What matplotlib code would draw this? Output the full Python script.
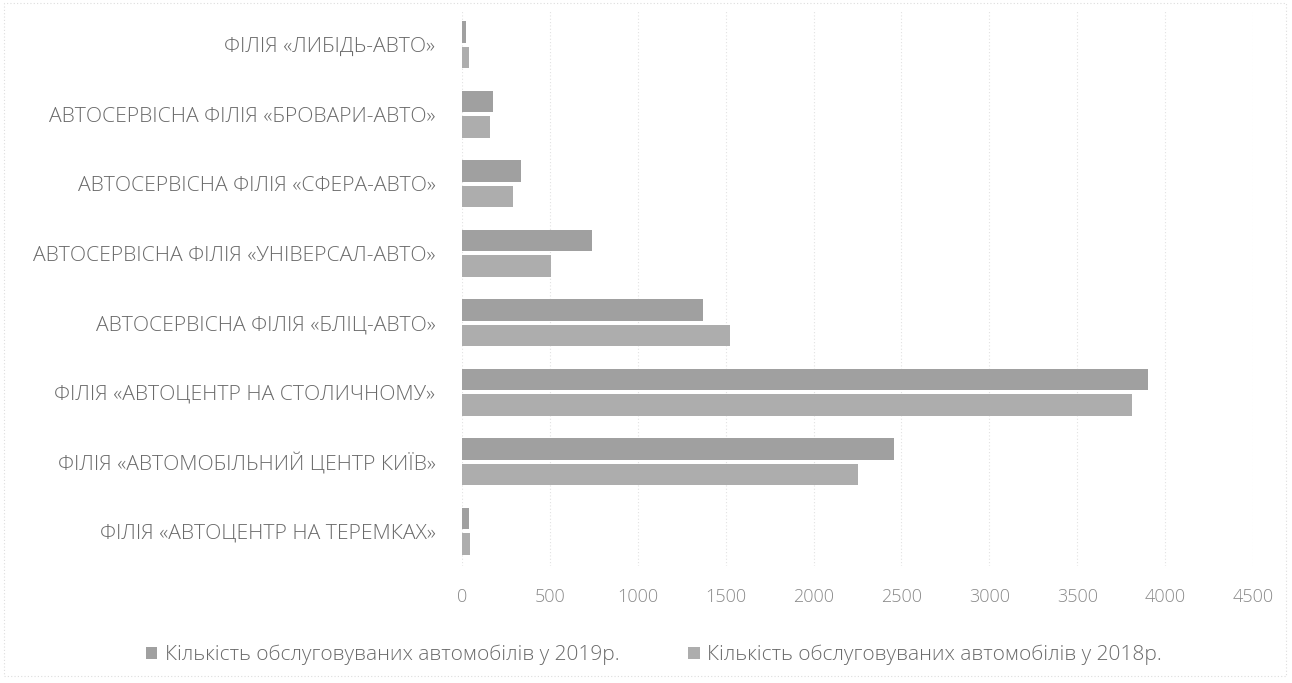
import numpy as np
import matplotlib.pyplot as plt
from matplotlib.patches import Rectangle

# Філії (знизу вгору, як на осі)
branches = [
    "ФІЛІЯ «АВТОЦЕНТР НА ТЕРЕМКАХ»",
    "ФІЛІЯ «АВТОМОБІЛЬНИЙ ЦЕНТР КИЇВ»",
    "ФІЛІЯ «АВТОЦЕНТР НА СТОЛИЧНОМУ»",
    "АВТОСЕРВІСНА ФІЛІЯ «БЛІЦ-АВТО»",
    "АВТОСЕРВІСНА ФІЛІЯ «УНІВЕРСАЛ-АВТО»",
    "АВТОСЕРВІСНА ФІЛІЯ «СФЕРА-АВТО»",
    "АВТОСЕРВІСНА ФІЛІЯ «БРОВАРИ-АВТО»",
    "ФІЛІЯ «ЛИБІДЬ-АВТО»",
]
cars_2019 = [37, 2455, 3905, 1370, 738, 333, 179, 20]
cars_2018 = [43, 2255, 3810, 1525, 508, 290, 157, 37]
xticks = [0, 500, 1000, 1500, 2000, 2500, 3000, 3500, 4000, 4500]

label_2019 = "Кількість обслуговуваних автомобілів у 2019р."
label_2018 = "Кількість обслуговуваних автомобілів у 2018р."

plt.rcParams['font.family'] = ['Open Sans', 'DejaVu Sans']
text_col = '#6a6a6a'

fig = plt.figure(figsize=(12.92, 6.83), dpi=100)
ax = fig.add_axes([462 / 1292, 1 - 566 / 683, (1253 - 462) / 1292, (566 - 10) / 683])

y = np.arange(len(branches))
h = 0.31
off = 0.183
ax.barh(y + off, cars_2019, height=h, color='#a0a0a0', label=label_2019, zorder=2)
ax.barh(y - off, cars_2018, height=h, color='#adadad', label=label_2018, zorder=2)

ax.set_xlim(0, 4500)
ax.set_ylim(-0.5, len(branches) - 0.5)
ax.set_xticks(xticks)
ax.set_xticklabels([str(v) for v in xticks], fontsize=13, color='#8a8a8a', fontweight='light')
ax.set_yticks(y)
ax.set_yticklabels(branches, fontsize=15.2, color=text_col, fontweight='light')
ax.tick_params(axis='x', length=0, pad=16)
ax.tick_params(axis='y', length=0, pad=19)

ax.grid(axis='x', color='#e2e2e2', linestyle=(0, (1, 2)), linewidth=0.8, zorder=0)
for s in ax.spines.values():
    s.set_visible(False)

# рамка області діаграми
fig.patches.append(Rectangle((0.003, 0.01), 0.992, 0.985, transform=fig.transFigure,
                             fill=False, edgecolor='#dddddd', linestyle=(0, (1, 2)), linewidth=0.8))

fig.legend(loc='center', bbox_to_anchor=(0.506, 1 - 655 / 683), ncol=2, frameon=False,
           labelcolor=text_col, handlelength=0.55, handleheight=0.55,
           handletextpad=0.35, columnspacing=3.3, prop={'weight': 'light', 'size': 15})

fig.savefig('out.png', dpi=100, facecolor='white')
